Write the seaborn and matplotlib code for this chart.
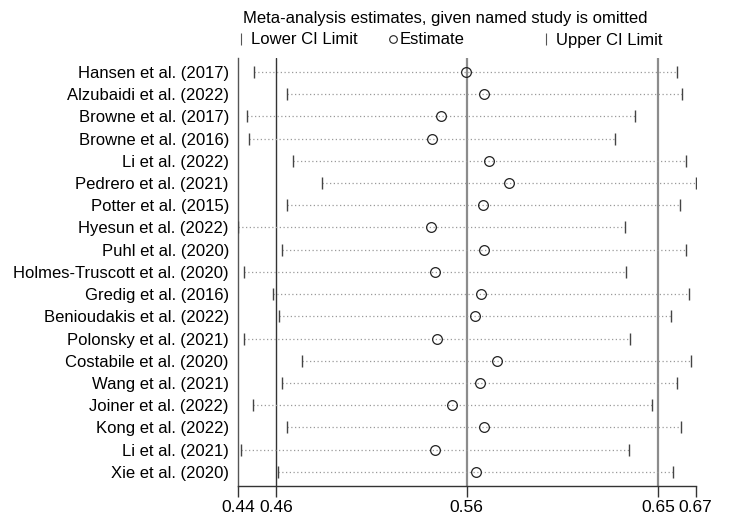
import matplotlib
matplotlib.use("Agg")
import matplotlib.pyplot as plt
import seaborn as sns
import numpy as np
import pandas as pd
from matplotlib.lines import Line2D

studies = ["Hansen et al. (2017)", "Alzubaidi et al. (2022)", "Browne et al. (2017)",
           "Browne et al. (2016)", "Li et al. (2022)", "Pedrero et al. (2021)",
           "Potter et al. (2015)", "Hyesun et al. (2022)", "Puhl et al. (2020)",
           "Holmes-Truscott et al. (2020)", "Gredig et al. (2016)", "Benioudakis et al. (2022)",
           "Polonsky et al. (2021)", "Costabile et al. (2020)", "Wang et al. (2021)",
           "Joiner et al. (2022)", "Kong et al. (2022)", "Li et al. (2021)", "Xie et al. (2020)"]
lower = [0.4518, 0.4682, 0.4480, 0.4492, 0.4712, 0.4855, 0.4682, 0.4437, 0.4658, 0.4465,
         0.4612, 0.4642, 0.4465, 0.4758, 0.4658, 0.4512, 0.4682, 0.4450, 0.4638]
estimate = [0.5575, 0.5668, 0.5450, 0.5407, 0.5692, 0.5790, 0.5662, 0.5403, 0.5667, 0.5420,
            0.5652, 0.5622, 0.5432, 0.5730, 0.5645, 0.5508, 0.5667, 0.5420, 0.5627]
upper = [0.6630, 0.6658, 0.6422, 0.6322, 0.6675, 0.6725, 0.6648, 0.6372, 0.6675, 0.6375,
         0.6693, 0.6603, 0.6397, 0.6703, 0.6633, 0.6507, 0.6652, 0.6390, 0.6610]

# overall pooled estimate and CI (reference lines)
overall_lower = 0.4626
overall_est = 0.5580
overall_upper = 0.6538

df = pd.DataFrame({"study": studies, "lower": lower, "estimate": estimate, "upper": upper})
df["row"] = np.arange(1, len(df) + 1)

sns.set_style("white")
plt.rcParams["font.family"] = ["Liberation Sans", "DejaVu Sans"]
plt.rcParams["text.color"] = "black"
plt.rcParams["xtick.color"] = "black"
plt.rcParams["ytick.color"] = "black"

fig, ax = plt.subplots(figsize=(7.44, 5.32), dpi=100)
fig.subplots_adjust(left=238 / 744, right=695.7 / 744, top=1 - 58 / 532, bottom=1 - 486 / 532)

# reference lines
ax.axvline(overall_lower, color="#333333", lw=1.0, zorder=1)
ax.axvline(overall_est, color="#8c8c8c", lw=1.6, zorder=1)
ax.axvline(overall_upper, color="#8c8c8c", lw=1.6, zorder=1)

# dotted CI lines
ax.hlines(df["row"], df["lower"], df["upper"], colors="#9a9a9a", linestyles=(0, (1, 2)), lw=0.9, zorder=2)

# CI end ticks
sns.scatterplot(data=df, x="lower", y="row", marker="|", s=80, color="#444444",
                linewidth=1.0, ax=ax, zorder=3, legend=False)
sns.scatterplot(data=df, x="upper", y="row", marker="|", s=80, color="#444444",
                linewidth=1.0, ax=ax, zorder=3, legend=False)

# estimates
ax.plot(df["estimate"], df["row"], "o", ms=7, mfc="none", mec="#222222", mew=0.9, zorder=4)

ax.set_xlim(df["lower"].min(), df["upper"].max())
ax.set_ylim(len(df) + 0.64, 0.37)

xt = [df["lower"].min(), overall_lower, overall_est, overall_upper, df["upper"].max()]
ax.set_xticks(xt)
ax.set_xticklabels(["0.44", "0.46", "0.56", "0.65", "0.67"], fontsize=12.5)
ax.set_yticks(df["row"])
ax.set_yticklabels(df["study"], fontsize=12)
ax.set_xlabel("")
ax.set_ylabel("")

ax.tick_params(axis="x", length=8, width=1, color="#333333", pad=2, bottom=True)
ax.tick_params(axis="y", length=0, pad=6.5)

for s in ["top", "right"]:
    ax.spines[s].set_visible(False)
ax.spines["left"].set_color("#555555")
ax.spines["left"].set_linewidth(1.0)
ax.spines["bottom"].set_color("#333333")
ax.spines["bottom"].set_linewidth(1.0)

fig.text(243 / 744, 1 - 18 / 532, "Meta-analysis estimates, given named study is omitted",
         fontsize=12, ha="left", va="center")

legend_items = [
    (Line2D([], [], ls="none", marker="|", ms=8, color="#555555", mew=0.8), "Lower CI Limit", 236 / 744, 0.3),
    (Line2D([], [], ls="none", marker="o", ms=5.5, mfc="none", mec="#222222", mew=0.8), "Estimate", 388 / 744, 0.1),
    (Line2D([], [], ls="none", marker="|", ms=8, color="#555555", mew=0.8), "Upper CI Limit", 541 / 744, 0.3),
]
for h, lab, xpos, pad in legend_items:
    leg = fig.legend([h], [lab], loc="center left", bbox_to_anchor=(xpos, 1 - 40 / 532),
                     frameon=False, handlelength=0.6, handletextpad=pad, borderpad=0,
                     borderaxespad=0, fontsize=12)

fig.savefig("out.png", dpi=100)
